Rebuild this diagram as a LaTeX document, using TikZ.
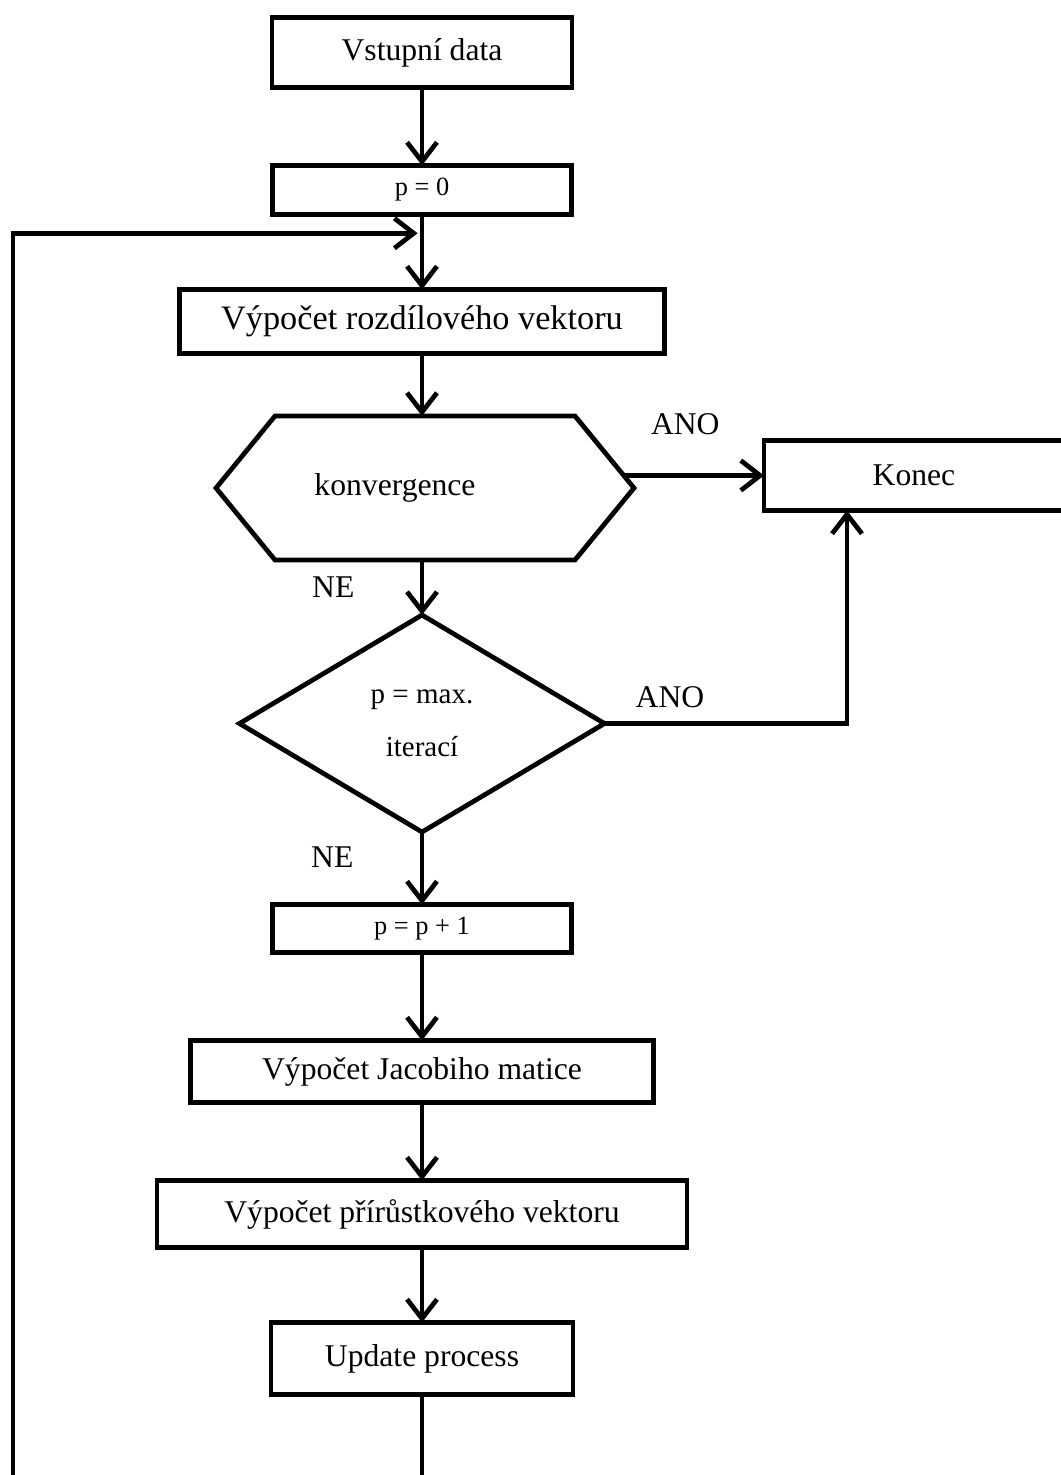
\documentclass[tikz,border=0pt]{standalone}
\usepackage{fontspec}
\setmainfont{Liberation Serif}
\usetikzlibrary{arrows.meta, positioning, shapes.geometric, calc}

\begin{document}
\begin{tikzpicture}[
    block/.style={rectangle, draw=black, line width=2.7pt, outer sep=0pt, inner sep=2pt, align=center, font=\fontsize{18}{22}\selectfont},
    smallblock/.style={block, font=\fontsize{15}{18}\selectfont},
    hexcell/.style={rectangle, outer sep=0pt, inner sep=0pt, minimum width=6cm, minimum height=2.88cm, font=\fontsize{18}{22}\selectfont},
    decision/.style={diamond, draw=black, line width=2.7pt, outer sep=0pt, inner sep=0pt, minimum width=7.3cm, minimum height=4.34cm, align=center, font=\fontsize{16.5}{30}\selectfont},
    lbl/.style={inner sep=3pt, font=\fontsize{18}{20}\selectfont},
    arrow/.style={-{Straight Barb[length=11pt, width=17pt]}, line width=2.7pt},
    line/.style={line width=2.7pt}
]
\useasboundingbox (0,0) rectangle (21.22,-29.5);
\node[block, minimum width=6cm, minimum height=1.4cm] (vstup) at (8.44,-1.05) {Vstupní data};
\node[smallblock, minimum width=5.98cm, minimum height=0.98cm, below=1.56cm of vstup] (p0) {p = 0};
\node[block, minimum width=9.7cm, minimum height=1.28cm, below=1.5cm of p0, font=\fontsize{19.5}{22}\selectfont] (rozd) {Výpočet rozdílového vektoru};
\node[hexcell, below=1.25cm of rozd, xshift=0.06cm] (hx) {konvergence\hspace*{1.2cm}};
\node[decision, below=1.1cm of hx, xshift=-0.06cm] (dia) {p = max.\\iterací};
\node[smallblock, minimum width=5.98cm, minimum height=0.96cm, below=1.45cm of dia] (pp1) {p = p + 1};
\node[block, minimum width=9.26cm, minimum height=1.24cm, below=1.76cm of pp1] (jac) {Výpočet Jacobiho matice};
\node[block, minimum width=10.6cm, minimum height=1.34cm, below=1.56cm of jac] (prir) {Výpočet přírůstkového vektoru};
\node[block, minimum width=6.04cm, minimum height=1.44cm, below=1.5cm of prir] (upd) {Update process};
\node[block, minimum width=6.0cm, minimum height=1.4cm, right=3.78cm of hx, yshift=0.25cm] (konec) {Konec};

% hexagon outline round the convergence test
\draw[line] ($(hx.west)+(-1.18,0)$) -- (hx.north west) -- (hx.north east) -- ($(hx.east)+(1.18,0)$)
    -- (hx.south east) -- (hx.south west) -- cycle;

\coordinate (join) at ([xshift=-1.34cm]konec.south);
\coordinate (back) at ($(p0.south)!0.25!(rozd.north)$);
\coordinate (corner) at (0.26,-29.54);

\draw[arrow] (vstup) -- (p0);
\draw[arrow] (p0) -- (rozd);
\draw[arrow] (rozd) -- (rozd |- hx.north);
\draw[arrow] ([xshift=0.97cm]hx.east |- konec.west) -- node[lbl, pos=0.44, above=0.67cm]{ANO} (konec.west);
\draw[arrow] (dia |- hx.south) -- node[lbl, left=1.2cm]{NE} (dia);
\draw[arrow] (dia.east) -- node[lbl, pos=0.27, above=0.17cm]{ANO} (dia.east -| join) -- (join);
\draw[arrow] (dia) -- node[lbl, left=1.22cm, yshift=0.22cm]{NE} (pp1);
\draw[arrow] (pp1) -- (jac);
\draw[arrow] (jac) -- (prir);
\draw[arrow] (prir) -- (upd);
\draw[arrow, shorten >=2.5pt] (upd.south) -- (upd.south |- corner) -- (corner) |- (back);
\end{tikzpicture}
\end{document}
